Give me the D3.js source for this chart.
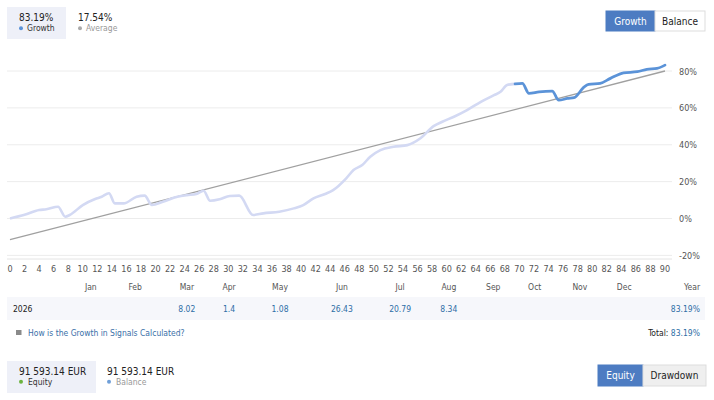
<!DOCTYPE html>
<html>
<head>
<meta charset="utf-8">
<script src="https://cdn.jsdelivr.net/npm/d3@7"></script>
<style>
  body { margin: 0; background: #fff; }
  svg text { font-family: "DejaVu Sans Condensed", "DejaVu Sans", sans-serif; }
</style>
</head>
<body>
<script>
  "use strict";

  // growth curve (x = week index, y = %)
  var weeks = [0, 2, 4, 5, 6.6, 7.6, 8.2, 10, 11.7, 12.6, 13.6, 14.4, 15.6, 17.4, 18.5, 19.5, 21, 23, 24.3, 25.6,
               26.6, 27.5, 28.8, 30.2, 31.5, 33.4, 34.8, 37, 39, 40.3, 41.7, 43.3, 44.4, 46.2, 47.2, 48.4, 49.5,
               50.9, 52.7, 54.6, 56.4, 58.2, 59.4, 61, 62.8, 64.7, 66.5, 67.4, 68.3, 69.4];
  var growth = [0, 2, 4.6, 5, 6.4, 1, 1.9, 7.3, 10.6, 11.8, 13.7, 8.2, 8.2, 11.8, 12.4, 7.3, 9.1, 11.8, 12.7, 13.3,
                15.1, 9.6, 10.4, 12.2, 12.4, 1.9, 2.8, 3.7, 5.5, 7.3, 10.9, 13.3, 15.4, 21.8, 26.3, 29, 33.5,
                37.1, 38.9, 39.8, 43.5, 50.1, 52.5, 55.2, 58.8, 63.3, 66.9, 68.7, 72.4, 73];
  // recent part drawn in strong blue
  var recentWeeks = [69.4, 70.4, 71.3, 72.7, 74.5, 75.4, 76.6, 77.5, 78.9, 79.5, 81.1, 82.5, 84.3, 86.2, 87.5, 88.9, 90];
  var recentGrowth = [73, 73.3, 67.9, 68.7, 69.1, 64.2, 65.1, 65.5, 71.4, 72.7, 73.3, 76, 79, 79.6, 80.9, 81.4, 83.19];
  // average (trend) line end points
  var trendWeeks = [0, 90];
  var trendValues = [-11.5, 80];

  var yTicks = [80, 60, 40, 20, 0, -20];
  var xTicks = d3.range(0, 91, 2);
  var months = ["Jan", "Feb", "Mar", "Apr", "May", "Jun", "Jul", "Aug", "Sep", "Oct", "Nov", "Dec"];
  var monthWeeks = [11.1, 17.2, 24.3, 30.1, 37.1, 45.6, 53.6, 60.3, 66.4, 72.1, 78.3, 84.4];
  var monthResults = ["", "", "8.02", "1.4", "1.08", "26.43", "20.79", "8.34", "", "", "", ""];
  var yearLabel = "2026";
  var yearTotal = "83.19%";

  var width = 714, height = 400;
  var svg = d3.select("body").append("svg")
      .attr("width", width)
      .attr("height", height);

  var x = d3.scaleLinear().domain([0, 90]).range([10, 665]);
  var y = d3.scaleLinear().domain([-20, 80]).range([255.4, 71]);

  // header stats
  function stat(g, x0, big, small, dot, smallColor) {
    g.append("text").attr("x", x0).attr("y", 21).style("font-size", "10px").attr("fill", "#222").text(big);
    g.append("circle").attr("cx", x0 + 2).attr("cy", 28.3).attr("r", 2).attr("fill", dot);
    g.append("text").attr("x", x0 + 8).attr("y", 31).style("font-size", "8.5px").attr("fill", smallColor).text(small);
  }
  svg.append("rect").attr("x", 7).attr("y", 7).attr("width", 59).attr("height", 32).attr("fill", "#eef0f8");
  stat(svg, 19, "83.19%", "Growth", "#5b93d8", "#333");
  stat(svg, 78, "17.54%", "Average", "#aaa", "#999");

  function buttons(y0, h, items) {
    items.forEach(function(b) {
      svg.append("rect").attr("x", b.x).attr("y", y0).attr("width", b.w).attr("height", h)
        .attr("fill", b.on ? "#4d7cc2" : b.bg).attr("stroke", b.on ? "#4d7cc2" : "#ddd");
      svg.append("text").attr("x", b.x + b.w / 2).attr("y", y0 + h / 2 + 3.6)
        .style("text-anchor", "middle").style("font-size", "10px")
        .attr("fill", b.on ? "#fff" : "#222").text(b.label);
    });
  }
  buttons(11, 20, [{x: 606, w: 49, label: "Growth", on: true},
                   {x: 655, w: 50, label: "Balance", on: false, bg: "#fff"}]);

  // grid + y axis
  var grid = svg.append("g");
  grid.selectAll("line").data(yTicks).enter().append("line")
    .attr("x1", 7).attr("x2", 672)
    .attr("y1", function(d) { return y(d); }).attr("y2", function(d) { return y(d); })
    .attr("stroke", "#ececec").attr("stroke-width", 1);
  grid.selectAll("text").data(yTicks).enter().append("text")
    .attr("x", 679).attr("y", function(d) { return y(d) + 3.5; })
    .style("font-size", "9px").attr("fill", "#555")
    .text(function(d) { return d + "%"; });
  svg.append("line").attr("x1", 7).attr("x2", 672).attr("y1", 259).attr("y2", 259)
    .attr("stroke", "#e4e4e4");

  // x axis
  svg.append("g").selectAll("text").data(xTicks).enter().append("text")
    .attr("x", function(d) { return x(d); }).attr("y", 272)
    .style("text-anchor", "middle").style("font-size", "9px").attr("fill", "#555")
    .text(function(d) { return d; });
  svg.append("g").selectAll("text").data(months).enter().append("text")
    .attr("x", function(d, i) { return x(monthWeeks[i]); }).attr("y", 290)
    .style("text-anchor", "middle").style("font-size", "8.5px").attr("fill", "#555")
    .text(function(d) { return d; });
  svg.append("text").attr("x", 692).attr("y", 290).style("text-anchor", "middle")
    .style("font-size", "8.5px").attr("fill", "#555").text("Year");

  // lines
  var line = d3.line()
    .x(function(d) { return x(d[0]); })
    .y(function(d) { return y(d[1]); })
    .curve(d3.curveMonotoneX);

  svg.append("path")
    .attr("d", line(d3.zip(trendWeeks, trendValues)))
    .attr("fill", "none").attr("stroke", "#a0a0a0").attr("stroke-width", 1.3);
  svg.append("path")
    .attr("d", line(d3.zip(weeks, growth)))
    .attr("fill", "none").attr("stroke", "#d3d9f3").attr("stroke-width", 2.6)
    .attr("stroke-linejoin", "round");
  svg.append("path")
    .attr("d", line(d3.zip(recentWeeks, recentGrowth)))
    .attr("fill", "none").attr("stroke", "#5b93d8").attr("stroke-width", 2.8)
    .attr("stroke-linejoin", "round").attr("stroke-linecap", "round");

  // results table row
  svg.append("rect").attr("x", 7).attr("y", 297).attr("width", 698).attr("height", 23).attr("fill", "#f6f7fb");
  svg.append("text").attr("x", 13).attr("y", 312).style("font-size", "8.5px").attr("fill", "#222").text(yearLabel);
  svg.append("g").selectAll("text").data(monthResults).enter().append("text")
    .attr("x", function(d, i) { return x(monthWeeks[i]); }).attr("y", 312)
    .style("text-anchor", "middle").style("font-size", "8.5px").attr("fill", "#2e6ea6")
    .text(function(d) { return d; });
  svg.append("text").attr("x", 700).attr("y", 312).style("text-anchor", "end")
    .style("font-size", "8.5px").attr("fill", "#2e6ea6").text(yearTotal);

  svg.append("rect").attr("x", 16).attr("y", 330).attr("width", 5.5).attr("height", 5).attr("fill", "#8a8a8a");
  svg.append("text").attr("x", 28).attr("y", 336).style("font-size", "8.5px").attr("fill", "#3a70a8")
    .text("How is the Growth in Signals Calculated?");
  var tot = svg.append("text").attr("x", 700).attr("y", 336).style("text-anchor", "end").style("font-size", "8.5px");
  tot.append("tspan").attr("fill", "#222").text("Total: ");
  tot.append("tspan").attr("fill", "#2e6ea6").text(yearTotal);

  // equity block
  function stat2(x0, big, small, dot, smallColor) {
    svg.append("text").attr("x", x0).attr("y", 375).style("font-size", "10px").attr("fill", "#222").text(big);
    svg.append("circle").attr("cx", x0 + 2).attr("cy", 381.7).attr("r", 2).attr("fill", dot);
    svg.append("text").attr("x", x0 + 9).attr("y", 385).style("font-size", "8.5px").attr("fill", smallColor).text(small);
  }
  svg.append("rect").attr("x", 7).attr("y", 361).attr("width", 89).attr("height", 32).attr("fill", "#eef0f8");
  stat2(19, "91 593.14 EUR", "Equity", "#6cb33f", "#333");
  stat2(107, "91 593.14 EUR", "Balance", "#6f9fd8", "#999");

  buttons(365, 21, [{x: 598, w: 45, label: "Equity", on: true},
                    {x: 643, w: 63, label: "Drawdown", on: false, bg: "#efefef"}]);
</script>
</body>
</html>
